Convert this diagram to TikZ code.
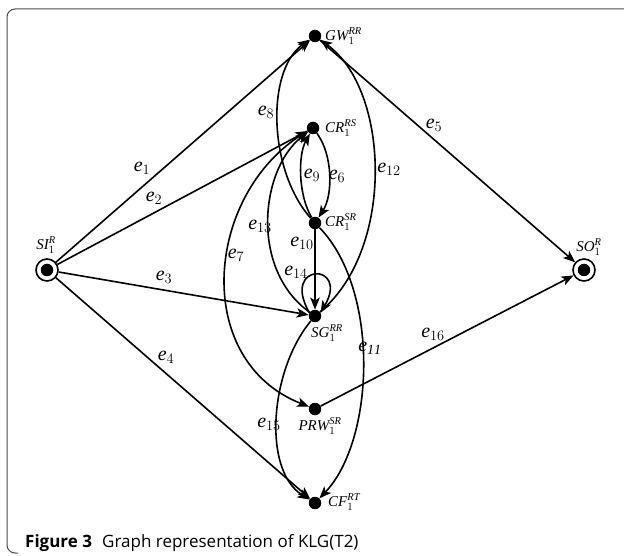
\documentclass[tikz,border=0pt]{standalone}
\usepackage{fontspec}
\setmainfont{Liberation Serif}
\newfontfamily\capfont{Open Sans}
\usetikzlibrary{arrows.meta}
\newcommand{\el}[1]{$\mathit{e}_{#1}$}
\begin{document}
\begin{tikzpicture}[x=1pt,y=-1pt,
  dot/.style={circle,fill=black,inner sep=0pt,minimum size=12.5pt},
  ring/.style={circle,draw=black,line width=1.6pt,inner sep=0pt,minimum size=22pt},
  edge/.style={line width=1.6pt,-{Stealth[length=12pt,width=9.5pt,inset=3pt]}},
  nlab/.style={font=\fontsize{15}{17}\selectfont,inner sep=0pt},
  elab/.style={font=\fontsize{20}{22}\selectfont,inner sep=0pt},
  frame/.style={draw=black!70,line width=1pt,rounded corners=8pt}]
\useasboundingbox (0,0) rectangle (624,556);
\draw[frame] (18,553) -- (7,553) -- (7,9) -- (624,9);
% nodes
\node[dot] (gw) at (315,36) {};
\node[dot] (crrs) at (313,128) {};
\node[dot] (crsr) at (315,223) {};
\node[dot] (sg) at (315,316) {};
\node[dot] (prw) at (315,409) {};
\node[dot] (cf) at (315,503) {};
\node[ring] (si) at (47,270) {};
\node[dot] (siin) at (si) {};
\node[ring] (so) at (584,270) {};
\node[dot] (soin) at (so) {};
% node labels
\node[nlab,anchor=west] (gwl) at (325,36) {$\mathit{GW}_1^{\mathit{RR}}$};
\node[nlab,anchor=west] (crrsl) at (325,128) {$\mathit{CR}_1^{\mathit{RS}}$};
\node[nlab,anchor=west] (crsrl) at (325,222) {$\mathit{CR}_1^{\mathit{SR}}$};
\node[nlab] (sgl) at (327,333) {$\mathit{SG}_1^{\mathit{RR}}$};
\node[nlab] (prwl) at (320,426) {$\mathit{PRW}_1^{\mathit{SR}}$};
\node[nlab,anchor=west] (cfl) at (328,502) {$\mathit{CF}_1^{\mathit{RT}}$};
\node[nlab] (sil) at (46,245) {$\mathit{SI}_1^{\mathit{R}}$};
\node[nlab] (sol) at (589,247) {$\mathit{SO}_1^{\mathit{R}}$};
% edges
\draw[edge] (si) -- (gw);
\draw[edge] (si) -- (crrs);
\draw[edge] (si) -- (sg);
\draw[edge] (si) -- (cf);
\draw[edge] (gw) -- (so);
\draw[edge] (prw) -- (so);
\draw[edge] (crrs) .. controls (333,155) and (333,195) .. (crsr);
\draw[edge] (crsr) .. controls (298,195) and (298,155) .. (crrs);
\draw[edge] (crsr) .. controls (268,170) and (266,70) .. (gw);
\draw[edge] (sg) .. controls (395,250) and (390,90) .. (gw);
\draw[edge] (sg) .. controls (250,270) and (260,170) .. (crrs);
\draw[edge] (crrs) .. controls (205,190) and (190,360) .. (prw);
\draw[edge] (crsr) -- (sg);
\draw[edge] (sg.150) .. controls (280,262) and (350,262) .. (sg.30);
\draw[edge] (crsr) .. controls (380,290) and (375,440) .. (cf);
\draw[edge] (sg) .. controls (270,370) and (262,470) .. (cf);
% edge labels
\node[elab] (l1) at (142,168) {\el{1}};
\node[elab] (l2) at (154,198) {\el{2}};
\node[elab] (l3) at (164,277) {\el{3}};
\node[elab] (l4) at (166,357) {\el{4}};
\node[elab] (l5) at (434,125) {\el{5}};
\node[elab] (l6) at (337,176) {\el{6}};
\node[elab] (l7) at (236,255) {\el{7}};
\node[elab] (l8) at (266,112) {\el{8}};
\node[elab] (l9) at (312,175) {\el{9}};
\node[elab] (l10) at (302,243) {\el{10}};
\node[elab] (l11) at (370,348) {$\mathit{e}_{\mathit{11}}$};
\node[elab] (l12) at (389,169) {\el{12}};
\node[elab] (l13) at (260,226) {\el{13}};
\node[elab] (l14) at (296,272) {\el{14}};
\node[elab] (l15) at (269,424) {\el{15}};
\node[elab] (l16) at (433,334) {\el{16}};
% caption
\node[anchor=base west,inner sep=0pt] (cap) at (25,547) {\capfont\fontsize{17}{20}\selectfont\textbf{Figure 3}\hspace{0.6em}Graph representation of KLG(T2)};
\end{tikzpicture}
\end{document}
